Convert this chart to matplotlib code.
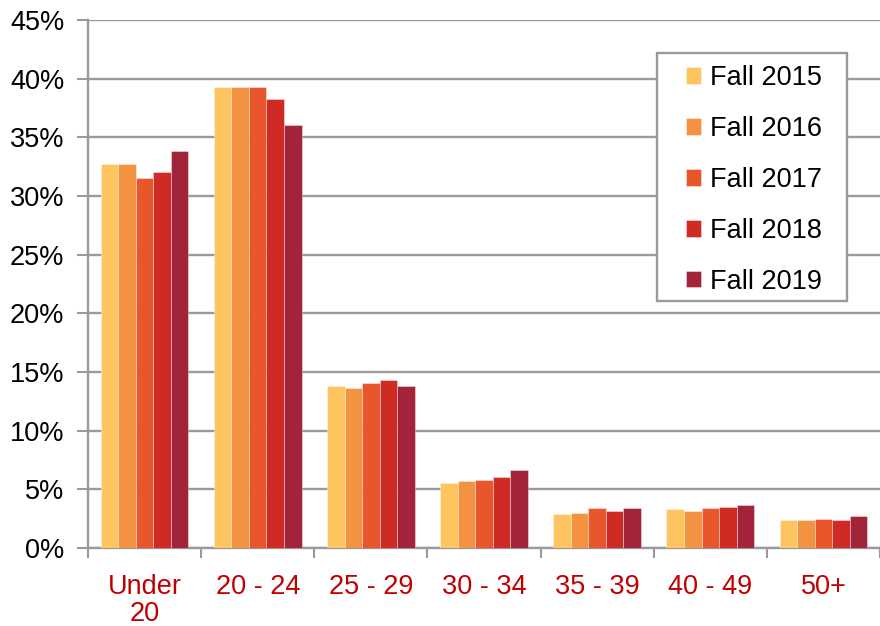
import numpy as np
import matplotlib
matplotlib.use('Agg')
import matplotlib.pyplot as plt
from matplotlib.patches import Rectangle
from matplotlib.ticker import PercentFormatter

categories = ["Under\n20", "20 - 24", "25 - 29", "30 - 34", "35 - 39", "40 - 49", "50+"]
series = ["Fall 2015", "Fall 2016", "Fall 2017", "Fall 2018", "Fall 2019"]
fall_2015 = [32.7, 39.3, 13.8, 5.5, 2.9, 3.3, 2.4]
fall_2016 = [32.7, 39.3, 13.6, 5.7, 3.0, 3.15, 2.4]
fall_2017 = [31.5, 39.3, 14.1, 5.8, 3.4, 3.4, 2.5]
fall_2018 = [32.05, 38.3, 14.3, 6.05, 3.15, 3.5, 2.4]
fall_2019 = [33.8, 36.05, 13.8, 6.65, 3.4, 3.7, 2.7]
colors = ["#FDC45F", "#F39342", "#E8572C", "#CF2A24", "#A3243A"]

plt.rcParams['font.family'] = ['Liberation Sans', 'DejaVu Sans']
fs = 19.5

fig = plt.figure(figsize=(8.8, 6.26), dpi=100)
ax = fig.add_axes([88/880, 78/626, 792/880, 528/626])

x = np.arange(len(categories))
w = 0.155
for i, (name, vals) in enumerate(zip(series, [fall_2015, fall_2016, fall_2017, fall_2018, fall_2019])):
    ax.bar(x + (i - 2) * w, vals, w, color=colors[i], label=name,
           edgecolor=(1, 1, 1, 0.45), linewidth=0.6, zorder=3)

ax.set_ylim(0, 45)
ax.set_xlim(-0.5, len(categories) - 0.5)
ax.set_yticks(np.arange(0, 46, 5))
ax.yaxis.set_major_formatter(PercentFormatter(decimals=0))
ax.grid(axis='y', color='#9a9a9a', linewidth=1.7, zorder=0)
ax.set_axisbelow(True)

ax.set_xticks(np.arange(len(categories) + 1) - 0.5, minor=False)
ax.set_xticklabels([])
ax.set_xticks(x, minor=True)
ax.set_xticklabels(categories, minor=True, color='#C00000', fontsize=fs, linespacing=1.05)
ax.tick_params(axis='x', which='major', length=7, width=1.5, color='#9a9a9a')
ax.tick_params(axis='x', which='minor', length=0, pad=19)
ax.tick_params(axis='y', length=8, width=1.5, color='#9a9a9a', labelsize=fs, pad=9)

for s in ['top', 'right']:
    ax.spines[s].set_visible(False)
for s in ['left', 'bottom']:
    ax.spines[s].set_color('#9a9a9a')
    ax.spines[s].set_linewidth(1.7)

# legend frame drawn separately (box is wider than the text padding allows)
ax.add_patch(Rectangle((657/880, 1 - 301/626), 190/880, 248/626,
                       transform=fig.transFigure, facecolor='white', clip_on=False,
                       edgecolor='#9a9a9a', linewidth=1.7, zorder=5))
leg = ax.legend(loc='upper left', fontsize=fs, frameon=False,
                handlelength=0.57, handleheight=0.57, handletextpad=0.3,
                labelspacing=0.92, borderpad=0, borderaxespad=0,
                bbox_to_anchor=(686/880, 1 - 65/626), bbox_transform=fig.transFigure)
leg.set_zorder(6)

fig.savefig('out.png', dpi=100)
